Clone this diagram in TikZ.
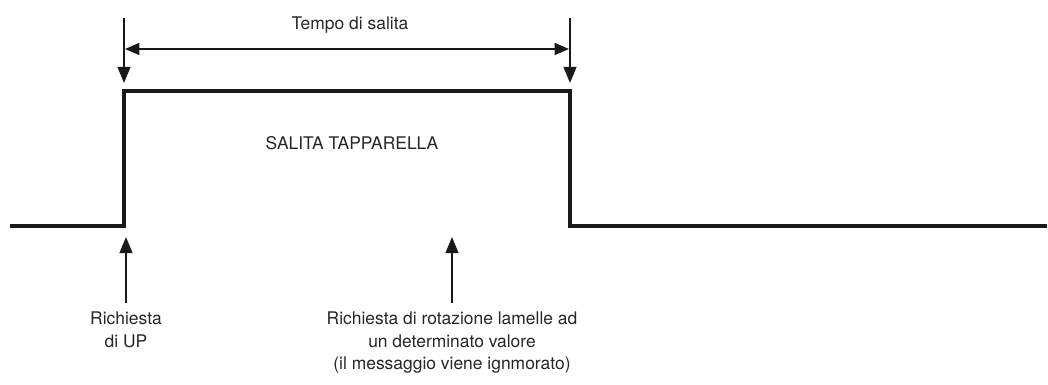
\documentclass[tikz,border=0pt]{standalone}
\usepackage{fontspec}
\setmainfont{TeX Gyre Heros}
\usetikzlibrary{positioning,arrows.meta}

\begin{document}
\begin{tikzpicture}[
  x=0.025cm, y=-0.025cm,
  signal/.style={line width=2.8pt, black!90, line join=miter},
  arrow/.style={-{Triangle[length=4mm, width=3.2mm]}, line width=1.1pt, black!90},
  dimarrow/.style={{Triangle[length=3.6mm, width=3mm]}-{Triangle[length=3.6mm, width=3mm]}, line width=1.1pt, black!90},
  label/.style={font=\fontsize{12.4}{15.8}\selectfont, text=black!85, align=center, inner sep=0pt},
]
\useasboundingbox (0,0) rectangle (1048,385);

% === SIGNAL ===
\coordinate (s0) at (10,226);
\coordinate (rise) at (124,226);
\coordinate (rtop) at (124,91);
\coordinate (ftop) at (570,91);
\coordinate (fall) at (570,226);
\coordinate (s1) at (1047,226);
\draw[signal] (s0) -- (rise) -- (rtop) -- (ftop) -- (fall) -- (s1);

% === TOP MARKERS ===
\coordinate (m1) at (124,18);
\coordinate (m1t) at (124,83);
\coordinate (m2) at (570,18);
\coordinate (m2t) at (570,83);
\draw[arrow] (m1) -- (m1t);
\draw[arrow] (m2) -- (m2t);
\coordinate (d1) at (125,49);
\coordinate (d2) at (569,49);
\draw[dimarrow] (d1) -- (d2);
\node[label] (tempo) at (350,25) {Tempo di salita};

\node[label] (salita) at (352,143) {SALITA TAPPARELLA};

% === BOTTOM REQUESTS ===
\node[label, anchor=north] (up) at (126,312) {Richiesta\\di UP};
\node[label, anchor=north] (rot) at (452,312) {Richiesta di rotazione lamelle ad\\un determinato valore\\(il messaggio viene ignmorato)};
\coordinate (upb) at (126,303);
\coordinate (upt) at (126,237);
\coordinate (rotb) at (452,303);
\coordinate (rott) at (452,237);
\draw[arrow] (upb) -- (upt);
\draw[arrow] (rotb) -- (rott);
\end{tikzpicture}
\end{document}
